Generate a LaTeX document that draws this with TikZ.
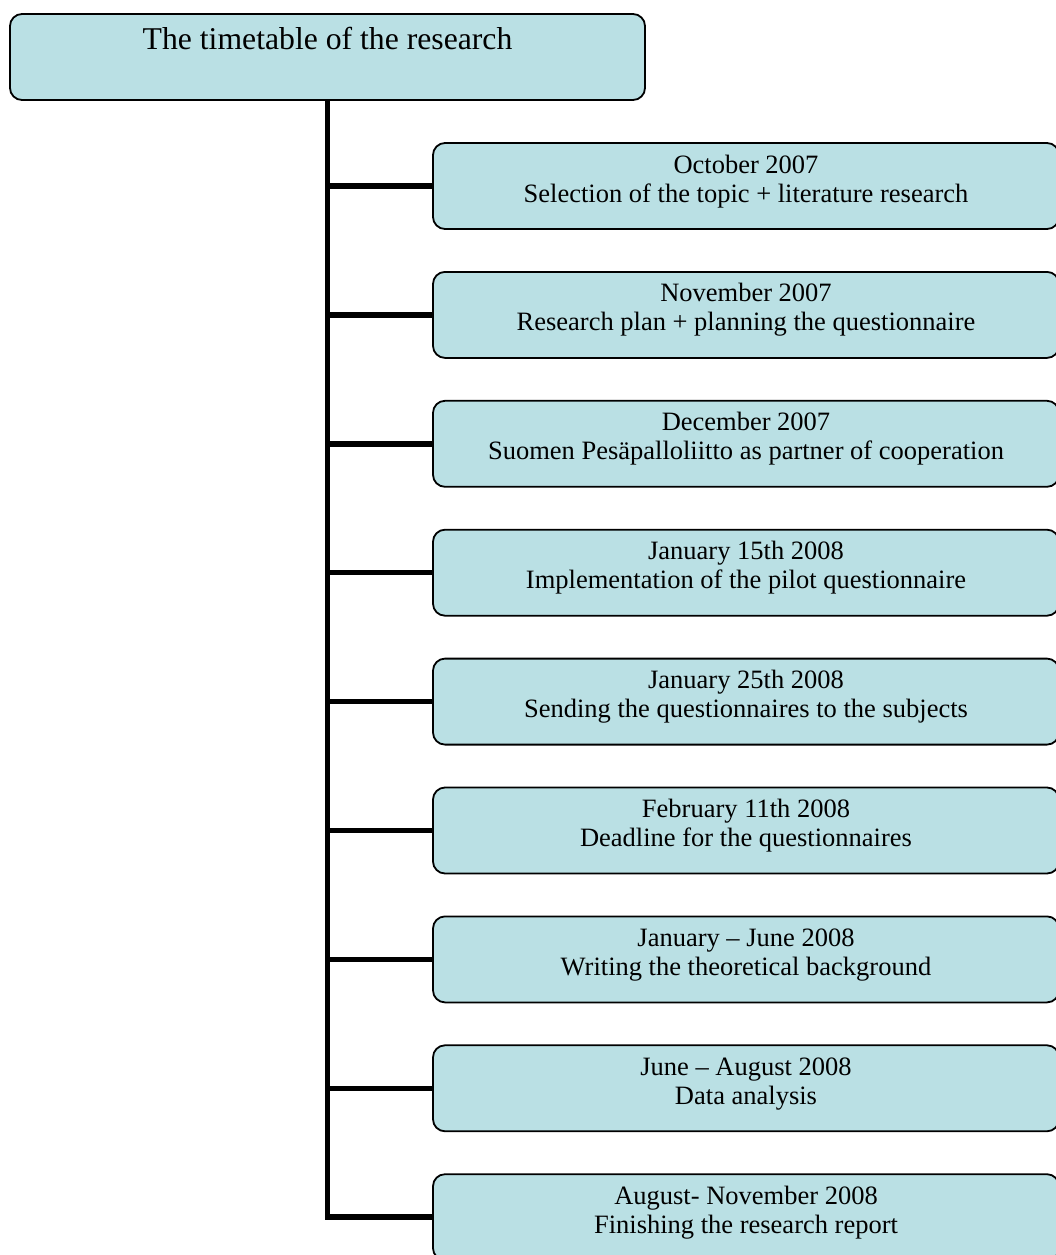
\documentclass[tikz,border=0pt]{standalone}
\usepackage{fontspec}
\setmainfont{Liberation Serif}
\usepackage{xcolor}
\usetikzlibrary{math}
\definecolor{qteal}{RGB}{186,224,228}

\begin{document}
\begin{tikzpicture}[x=1pt,y=-1pt,
  boxbase/.style={draw=black, line width=1.8pt, fill=qteal, rounded corners=12pt, inner sep=4pt},
  headbox/.style={boxbase, minimum width=635pt, minimum height=86pt,
    font=\fontsize{31.7}{36}\selectfont, text height=22pt, text depth=36pt},
  entry/.style={boxbase, minimum width=626pt, minimum height=86pt, align=center,
    font=\fontsize{26.5}{29}\selectfont, text height=38pt, text depth=6pt},
  trunk/.style={line width=5.5pt, line join=miter},
  branch/.style={line width=5.5pt}]

\tikzmath{
\W = 1056;
\H = 1255;
\hx = 327.5; %centre of the heading
\hy = 57;
\ex = 746; %centre of the entries
\ey = 186; %first entry
\dy = 128.9; %distance between entries
}

\useasboundingbox (0,0) rectangle (\W,\H);

%heading:
\node[headbox] (title) at (\hx,\hy) {The timetable of the research};

%entries:
\node[entry] (oct) at (\ex,\ey) {October 2007\\Selection of the topic + literature research};
\node[entry] (nov) at (\ex,\ey+\dy) {November 2007\\Research plan + planning the questionnaire};
\node[entry] (dec) at (\ex,\ey+2*\dy) {December 2007\\Suomen Pesäpalloliitto as partner of cooperation};
\node[entry] (janA) at (\ex,\ey+3*\dy) {January 15th 2008\\Implementation of the pilot questionnaire};
\node[entry] (janB) at (\ex,\ey+4*\dy) {January 25th 2008\\Sending the questionnaires to the subjects};
\node[entry] (feb) at (\ex,\ey+5*\dy) {February 11th 2008\\Deadline for the questionnaires};
\node[entry] (janjun) at (\ex,\ey+6*\dy) {January -- June 2008\\Writing the theoretical background};
\node[entry] (junaug) at (\ex,\ey+7*\dy) {June -- August 2008\\Data analysis};
\node[entry] (augnov) at (\ex,\ey+8*\dy) {August- November 2008\\Finishing the research report};

%time line:
\draw[trunk] (title.south) |- (augnov.west);
\draw[branch] (title.south |- oct.west) -- (oct.west);
\draw[branch] (title.south |- nov.west) -- (nov.west);
\draw[branch] (title.south |- dec.west) -- (dec.west);
\draw[branch] (title.south |- janA.west) -- (janA.west);
\draw[branch] (title.south |- janB.west) -- (janB.west);
\draw[branch] (title.south |- feb.west) -- (feb.west);
\draw[branch] (title.south |- janjun.west) -- (janjun.west);
\draw[branch] (title.south |- junaug.west) -- (junaug.west);

\end{tikzpicture}
\end{document}
